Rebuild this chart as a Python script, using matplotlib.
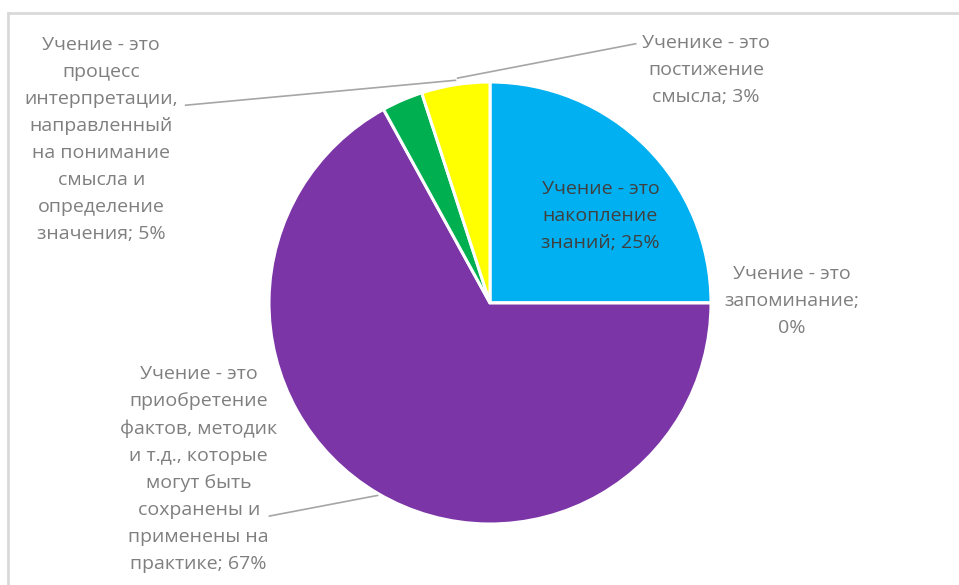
import matplotlib.pyplot as plt
import numpy as np

# pie data (clockwise from 12 o'clock)
labels = [
    "Учение - это\nнакопление\nзнаний; 25%",
    "Учение - это\nзапоминание;\n0%",
    "Учение - это\nприобретение\nфактов, методик\nи т.д., которые\nмогут быть\nсохранены и\nприменены на\nпрактике; 67%",
    "Ученике - это\nпостижение\nсмысла; 3%",
    "Учение - это\nпроцесс\nинтерпретации,\nнаправленный\nна понимание\nсмысла и\nопределение\nзначения; 5%",
]
values = [25, 0, 67, 3, 5]
colors = ["#00B0F0", "#00B0F0", "#7B35A6", "#00B050", "#FFFF00"]

# label centres in pie-radius units
label_pos = [(0.50, 0.395), (1.364, 0.009), (-1.318, -0.75), (0.977, 1.055), (-1.759, 0.741)]

W, H = 959, 585
fig = plt.figure(figsize=(W / 100, H / 100), dpi=100)
fig.patch.set_facecolor("white")

cx, cy, r = 490, 303, 221
ax = fig.add_axes([(cx - r) / W, (H - cy - r) / H, 2 * r / W, 2 * r / H])
wedges, _ = ax.pie(values, colors=colors, startangle=90, counterclock=False,
                   radius=1, wedgeprops=dict(edgecolor="white", linewidth=2.2))
ax.set_xlim(-1, 1)
ax.set_ylim(-1, 1)
ax.set_aspect("equal")
ax.axis("off")

txt_gray = "#7f7f7f"
for i, (lab, (x, y)) in enumerate(zip(labels, label_pos)):
    col = "#404040" if i == 0 else txt_gray
    ax.text(x, y, lab, ha="center", va="center", fontsize=14, color=col,
            family="Open Sans", linespacing=1.64, clip_on=False)

# leader lines
def mid(w):
    a = np.deg2rad((w.theta1 + w.theta2) / 2)
    return np.cos(a), np.sin(a)

lc = "#a6a6a6"
my = mid(wedges[4])
ax.plot([-1.377, my[0]], [0.895, my[1] + 0.02], color=lc, lw=1.2, clip_on=False)
ax.plot([0.659, my[0] + 0.01], [1.173, my[1] + 0.03], color=lc, lw=1.2, clip_on=False)
mp = mid(wedges[2])
ax.plot([-0.998, mp[0]], [-0.964, mp[1] - 0.01], color=lc, lw=1.2, clip_on=False)

# chart frame (top and left edges visible)
fig.add_artist(plt.Line2D([8 / W, 1], [1 - 13 / H, 1 - 13 / H], color="#d9d9d9", lw=2))
fig.add_artist(plt.Line2D([8 / W, 8 / W], [0, 1 - 13 / H], color="#d9d9d9", lw=2))

fig.savefig("out.png", dpi=100)
